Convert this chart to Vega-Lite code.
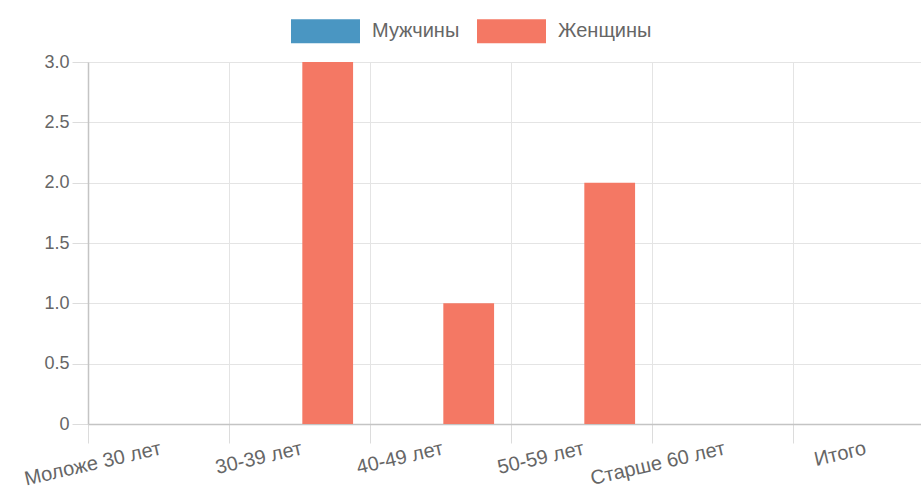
{
  "$schema": "https://vega.github.io/schema/vega-lite/v6.json",
  "width": 833,
  "height": 362,
  "autosize": "none",
  "padding": {"left": 88, "top": 62, "right": 0, "bottom": 64},
  "background": "white",
  "config": {"view": {"stroke": null}},
  "data": {
    "values": [
      {"age": "Моложе 30 лет", "sex": "Мужчины", "n": 0},
      {"age": "Моложе 30 лет", "sex": "Женщины", "n": 0},
      {"age": "30-39 лет", "sex": "Мужчины", "n": 0},
      {"age": "30-39 лет", "sex": "Женщины", "n": 3},
      {"age": "40-49 лет", "sex": "Мужчины", "n": 0},
      {"age": "40-49 лет", "sex": "Женщины", "n": 1},
      {"age": "50-59 лет", "sex": "Мужчины", "n": 0},
      {"age": "50-59 лет", "sex": "Женщины", "n": 2},
      {"age": "Старше 60 лет", "sex": "Мужчины", "n": 0},
      {"age": "Старше 60 лет", "sex": "Женщины", "n": 0},
      {"age": "Итого", "sex": "Мужчины", "n": 0},
      {"age": "Итого", "sex": "Женщины", "n": 0}
    ]
  },
  "mark": {"type": "bar"},
  "encoding": {
    "x": {
      "field": "age",
      "type": "nominal",
      "sort": ["Моложе 30 лет", "30-39 лет", "40-49 лет", "50-59 лет", "Старше 60 лет", "Итого"],
      "scale": {"range": [0, 846], "paddingInner": 0, "paddingOuter": 0},
      "axis": {
        "title": null,
        "bandPosition": 0,
        "labelAngle": -13,
        "labelAlign": "right",
        "labelBaseline": "top",
        "grid": true,
        "gridColor": "#e4e4e4",
        "tickColor": "#dcdcdc",
        "tickSize": 19,
        "domainColor": "#c4c4c4",
        "domainWidth": 1.5,
        "labelFont": "Liberation Sans",
        "labelFontSize": 20,
        "labelColor": "#666666",
        "labelPadding": -5
      }
    },
    "xOffset": {
      "field": "sex",
      "type": "nominal",
      "sort": ["Мужчины", "Женщины"],
      "scale": {"paddingInner": 0.1, "paddingOuter": 0.3}
    },
    "y": {
      "field": "n",
      "type": "quantitative",
      "scale": {"domain": [0, 3], "nice": false},
      "axis": {
        "title": null,
        "values": [0, 0.5, 1, 1.5, 2, 2.5, 3],
        "labelExpr": "datum.value == 0 ? '0' : format(datum.value, '.1f')",
        "grid": true,
        "gridColor": "#e4e4e4",
        "tickColor": "#dcdcdc",
        "tickSize": 16,
        "domainColor": "#c4c4c4",
        "domainWidth": 1.5,
        "labelFont": "Liberation Sans",
        "labelFontSize": 18,
        "labelColor": "#666666",
        "labelPadding": 3
      }
    },
    "color": {
      "field": "sex",
      "type": "nominal",
      "scale": {"domain": ["Мужчины", "Женщины"], "range": ["#4a96c2", "#f47864"]},
      "legend": {
        "title": null,
        "orient": "none",
        "direction": "horizontal",
        "legendX": 203,
        "legendY": -65.5,
        "symbolType": "M-1,-0.348h2v0.696h-2z",
        "symbolSize": 4761,
        "symbolStrokeWidth": 0,
        "symbolOpacity": 1,
        "labelFont": "Liberation Sans",
        "labelFontSize": 20,
        "labelColor": "#666666",
        "labelOffset": 12,
        "columnPadding": 17
      }
    }
  }
}
